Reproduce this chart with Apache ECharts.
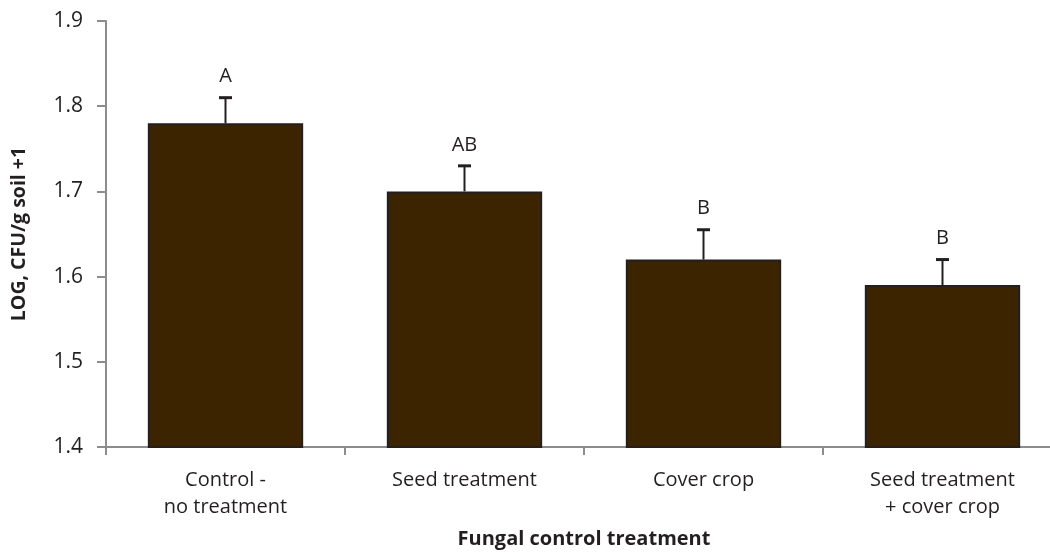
<!DOCTYPE html>
<html>
<head>
<meta charset="utf-8">
<script src="https://cdn.jsdelivr.net/npm/echarts@6/dist/echarts.min.js"></script>
<style>html,body{margin:0;padding:0;background:#fff}#chart{width:1050px;height:554px}</style>
</head>
<body>
<div id="chart"></div>
<script>
const categories = ['Control -\nno treatment', 'Seed treatment', 'Cover crop', 'Seed treatment\n+ cover crop'];
const means = [1.78, 1.70, 1.62, 1.59];
const errors = [0.03, 0.03, 0.035, 0.03];
const letters = ['A', 'AB', 'B', 'B'];
const yTicks = [1.4, 1.5, 1.6, 1.7, 1.8, 1.9];

const font = '"Open Sans", sans-serif';
const textColor = '#231f20';
const axisColor = '#8c8c8c';

const chart = echarts.init(document.getElementById('chart'));
chart.setOption({
  animation: false,
  grid: { left: 106, top: 21, bottom: 107, right: -12, containLabel: false, outerBoundsMode: 'none' },
  xAxis: {
    type: 'category',
    data: categories,
    boundaryGap: true,
    name: 'Fungal control treatment',
    nameLocation: 'middle',
    nameGap: 82,
    nameTextStyle: { fontFamily: font, fontWeight: 'bold', fontSize: 20, color: textColor },
    axisLine: { lineStyle: { color: axisColor, width: 2 } },
    axisTick: { show: true, length: 8, lineStyle: { color: axisColor, width: 2 }, alignWithLabel: false },
    axisLabel: { interval: 0, margin: 20, fontFamily: font, fontSize: 20, lineHeight: 27, color: textColor },
    splitLine: { show: false }
  },
  yAxis: {
    type: 'value',
    min: yTicks[0],
    max: yTicks[yTicks.length - 1],
    interval: 0.1,
    name: 'LOG, CFU/g soil +1',
    nameLocation: 'middle',
    nameGap: 77,
    nameTextStyle: { fontFamily: font, fontWeight: 'bold', fontSize: 19.5, color: textColor },
    axisLine: { show: true, lineStyle: { color: axisColor, width: 2 } },
    axisTick: { show: true, length: 9, lineStyle: { color: axisColor, width: 2 } },
    axisLabel: { margin: 23, fontFamily: font, fontSize: 21, color: textColor, formatter: v => v.toFixed(1) },
    splitLine: { show: false }
  },
  series: [
    {
      type: 'bar',
      data: means,
      barCategoryGap: '35%',
      itemStyle: { color: '#3d2401', borderColor: '#231f20', borderWidth: 2 },
      z: 2
    },
    {
      type: 'custom',
      z: 3,
      data: means.map((m, i) => [i, m, errors[i]]),
      renderItem: function (params, api) {
        const i = api.value(0);
        const m = api.value(1);
        const e = api.value(2);
        const base = api.coord([i, m]);
        const top = api.coord([i, m + e]);
        const cap = 6.5;
        return {
          type: 'group',
          children: [
            { type: 'line', shape: { x1: base[0], y1: base[1], x2: top[0], y2: top[1] }, style: { stroke: textColor, lineWidth: 2 } },
            { type: 'line', shape: { x1: top[0] - cap, y1: top[1], x2: top[0] + cap, y2: top[1] }, style: { stroke: textColor, lineWidth: 3 } },
            { type: 'text', x: top[0], y: top[1] - 21, style: { text: letters[params.dataIndex], fill: textColor, font: '20px ' + font, align: 'center', verticalAlign: 'middle' } }
          ]
        };
      }
    }
  ]
});
</script>
</body>
</html>
